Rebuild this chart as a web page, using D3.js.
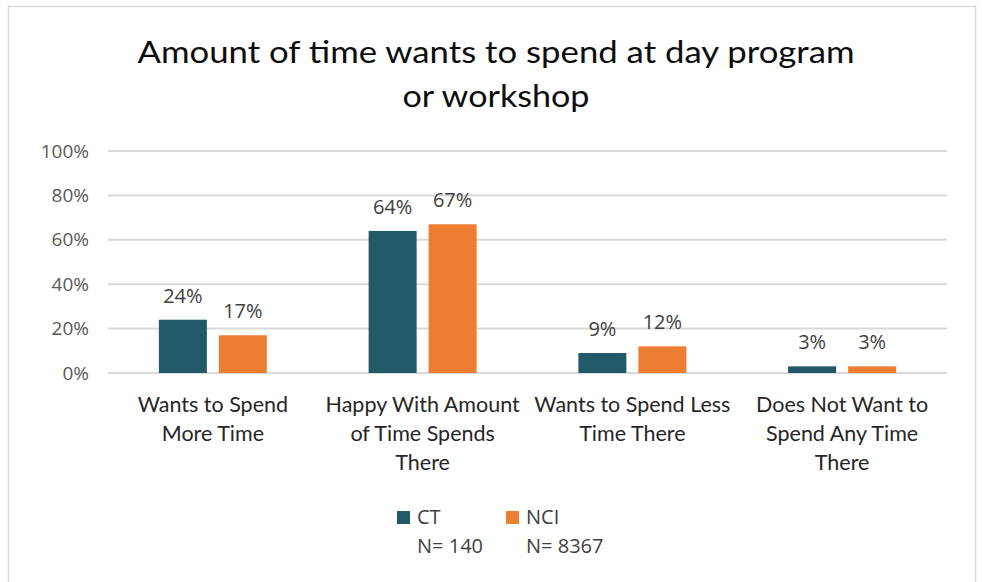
<!DOCTYPE html>
<html>
<head>
<meta charset="utf-8">
<script src="https://cdn.jsdelivr.net/npm/d3@7"></script>
<style>
  html, body { margin: 0; padding: 0; background: #fff; }
  svg { display: block; }
</style>
</head>
<body>
<svg id="chart" width="982" height="582"></svg>
<script>
// Survey response categories (wrapped into display lines)
const categories = [
  "Wants to Spend More Time",
  "Happy With Amount of Time Spends There",
  "Wants to Spend Less Time There",
  "Does Not Want to Spend Any Time There"
];
const categoryLines = [
  ["Wants to Spend", "More Time"],
  ["Happy With Amount", "of Time Spends", "There"],
  ["Wants to Spend Less", "Time There"],
  ["Does Not Want to", "Spend Any Time", "There"]
];
const seriesNames = ["CT", "NCI"];
const seriesN = ["N= 140", "N= 8367"];
const ctValues = [24, 64, 9, 3];
const nciValues = [17, 67, 12, 3];
const yTicks = [0, 20, 40, 60, 80, 100];
const titleLines = ["Amount of time wants to spend at day program", "or workshop"];

const colors = { CT: "#215968", NCI: "#ED7D31" };
const labelFont = "'Open Sans', 'DejaVu Sans', sans-serif";
const narrowFont = "Lato, 'Open Sans', sans-serif";

const svg = d3.select("#chart");

// Outer frame
svg.append("rect")
  .attr("x", 8.5).attr("y", 6.5)
  .attr("width", 967).attr("height", 590)
  .attr("fill", "#fff")
  .attr("stroke", "#d9d9d9").attr("stroke-width", 1.5);

// Title
const titleBaselines = [63, 107];
const titleWidths = [717, 187];
titleLines.forEach((t, i) => {
  svg.append("text")
    .attr("x", 496).attr("y", titleBaselines[i])
    .attr("text-anchor", "middle")
    .attr("font-family", narrowFont)
    .attr("font-size", 30)
    .attr("fill", "#0d0d0d")
    .attr("textLength", titleWidths[i])
    .attr("lengthAdjust", "spacingAndGlyphs")
    .text(t);
});

// Scales
const x0 = d3.scaleBand().domain(categories).range([108, 947]).paddingInner(0).paddingOuter(0);
const y = d3.scaleLinear().domain([0, 100]).range([373, 151]);
const barW = 48, barGap = 12;

// Gridlines
svg.append("g")
  .selectAll("line")
  .data(yTicks)
  .join("line")
  .attr("x1", 108).attr("x2", 947)
  .attr("y1", d => y(d)).attr("y2", d => y(d))
  .attr("stroke", "#d9d9d9").attr("stroke-width", 2);

// Y axis labels
const yAxis = d3.axisLeft(y).tickValues(yTicks).tickFormat(d => d + "%").tickSize(0).tickPadding(0);
const yg = svg.append("g").attr("transform", "translate(89,0)").call(yAxis);
yg.select(".domain").remove();
yg.selectAll("text")
  .attr("font-family", labelFont)
  .attr("font-size", 19)
  .attr("fill", "#595959");

// Bars with value labels
const data = categories.map((c, i) => ({ cat: c, vals: [ctValues[i], nciValues[i]] }));
data.forEach(d => {
  const cx = x0(d.cat) + x0.bandwidth() / 2;
  d.vals.forEach((v, s) => {
    const bx = s === 0 ? cx - barGap / 2 - barW : cx + barGap / 2;
    svg.append("rect")
      .attr("x", bx).attr("y", y(v))
      .attr("width", barW).attr("height", y(0) - y(v))
      .attr("fill", colors[seriesNames[s]]);
    svg.append("text")
      .attr("x", bx + barW / 2).attr("y", y(v) - 17)
      .attr("text-anchor", "middle")
      .attr("font-family", labelFont)
      .attr("font-size", 20)
      .attr("fill", "#404040")
      .text(v + "%");
  });
});

// Category labels
categories.forEach((c, i) => {
  const cx = x0(c) + x0.bandwidth() / 2;
  categoryLines[i].forEach((line, j) => {
    svg.append("text")
      .attr("x", cx).attr("y", 412 + j * 29)
      .attr("text-anchor", "middle")
      .attr("font-family", narrowFont)
      .attr("font-size", 21.5)
      .attr("fill", "#262626")
      .text(line);
  });
});

// Legend
const legendX = [397, 506];
seriesNames.forEach((s, i) => {
  svg.append("rect")
    .attr("x", legendX[i]).attr("y", 511)
    .attr("width", 13).attr("height", 13)
    .attr("fill", colors[s]);
  svg.append("text")
    .attr("x", legendX[i] + 20).attr("y", 524)
    .attr("font-family", labelFont)
    .attr("font-size", 20)
    .attr("fill", "#404040")
    .text(s);
  svg.append("text")
    .attr("x", legendX[i] + 20).attr("y", 553)
    .attr("font-family", labelFont)
    .attr("font-size", 20)
    .attr("fill", "#404040")
    .text(seriesN[i]);
});
</script>
</body>
</html>
